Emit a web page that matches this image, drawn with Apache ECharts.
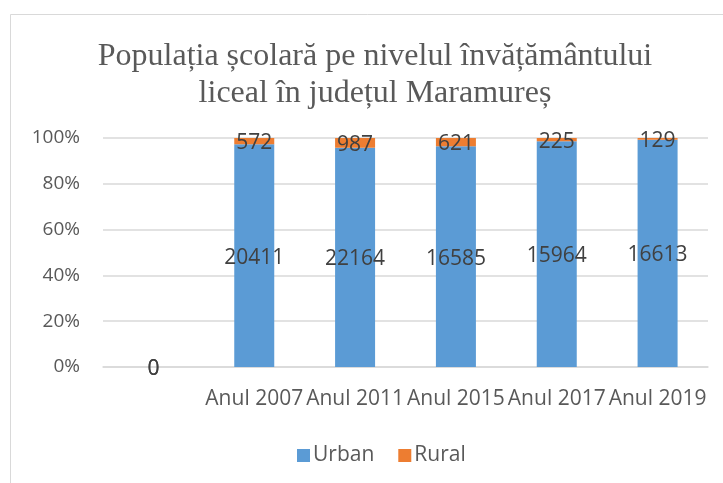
<!DOCTYPE html>
<html><head><meta charset="utf-8">
<script src="https://cdn.jsdelivr.net/npm/echarts@6/dist/echarts.min.js"></script>
<style>html,body{margin:0;padding:0;background:#fff}#c{width:723px;height:483px}</style>
</head><body><div id="c"></div>
<script>
var categories = ['', 'Anul 2007', 'Anul 2011', 'Anul 2015', 'Anul 2017', 'Anul 2019'];
var urban = [0, 20411, 22164, 16585, 15964, 16613];
var rural = [0, 572, 987, 621, 225, 129];
var yTicks = [0, 20, 40, 60, 80, 100];

function pct(a, b) {
  return a.map(function (v, i) { var t = a[i] + b[i]; return t ? v / t * 100 : 0; });
}
var urbanPct = pct(urban, rural);
var ruralPct = pct(rural, urban);

var chart = echarts.init(document.getElementById('c'));
var lbl = function (raw) {
  return {
    show: true, position: 'inside', color: '#404040', fontSize: 21,
    fontFamily: 'Open Sans', offset: [0, 2],
    formatter: function (p) { return String(raw[p.dataIndex]); }
  };
};
chart.setOption({
  animation: false,
  backgroundColor: '#fff',
  graphic: [{
    type: 'rect', shape: { x: 10.5, y: 14.5, width: 800, height: 600 },
    style: { fill: 'none', stroke: '#d9d9d9', lineWidth: 1 }, silent: true, z: -1
  }],
  title: {
    text: 'Populația școlară pe nivelul învățământului\nliceal în județul Maramureș',
    left: 370, top: 33, textAlign: 'center',
    textStyle: { fontFamily: 'Liberation Serif', fontSize: 32, fontWeight: 'normal', color: '#595959', lineHeight: 37 }
  },
  legend: {
    data: ['Urban', 'Rural'], left: 292, top: 440, itemWidth: 13, itemHeight: 13, itemGap: 24,
    icon: 'rect',
    textStyle: { fontFamily: 'Open Sans', fontSize: 21, color: '#595959', padding: [0, 0, 0, -2] }
  },
  grid: { left: 103, right: 15, top: 138, bottom: 116 },
  xAxis: {
    type: 'category', data: categories,
    axisLine: { show: true, lineStyle: { color: '#d9d9d9', width: 1.5 } },
    axisTick: { show: false },
    axisLabel: { color: '#595959', fontFamily: 'Open Sans', fontSize: 21, margin: 22, interval: 0 }
  },
  yAxis: {
    type: 'value', min: yTicks[0], max: yTicks[yTicks.length - 1], interval: 20,
    axisLine: { show: false }, axisTick: { show: false },
    splitLine: { lineStyle: { color: '#d9d9d9', width: 1.5 } },
    axisLabel: { color: '#595959', fontFamily: 'Open Sans', fontSize: 19, margin: 23, formatter: '{value}%' }
  },
  series: [
    { name: 'Urban', type: 'bar', stack: 's', barWidth: 40, data: urbanPct,
      itemStyle: { color: '#5b9bd5' }, label: lbl(urban) },
    { name: 'Rural', type: 'bar', stack: 's', barWidth: 40, data: ruralPct,
      itemStyle: { color: '#ed7d31' }, label: lbl(rural) }
  ]
});
</script></body></html>
